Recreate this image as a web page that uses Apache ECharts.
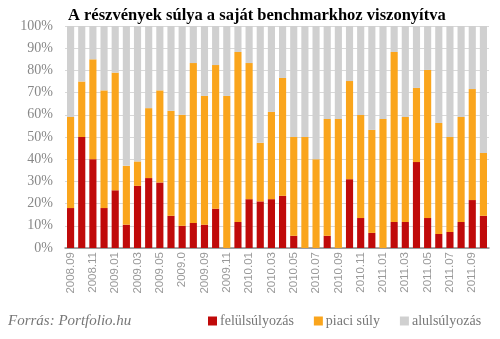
<!DOCTYPE html>
<html>
<head>
<meta charset="utf-8">
<script src="https://cdn.jsdelivr.net/npm/echarts@6/dist/echarts.min.js"></script>
<style>html,body{margin:0;padding:0;background:#fff}#c{width:500px;height:339px}</style>
</head>
<body>
<div id="c"></div>
<script>
var categories = ["2008.09","2008.10","2008.11","2008.12","2009.01","2009.02","2009.03","2009.04","2009.05","2009.06","2009.0","2009.08","2009.09","2009.10","2009.11","2009.12","2010.01","2010.02","2010.03","2010.04","2010.05","2010.06","2010.07","2010.08","2010.09","2010.10","2010.11","2010.12","2011.01","2011.02","2011.03","2011.04","2011.05","2011.06","2011.07","2011.08","2011.09","2011.10"];
var felulsulyozas = [18,50,40,18,26,10.5,28,31.5,29.5,14.5,10,11.3,10.5,17.7,0,11.7,22,21,22,23.5,5.5,0,0,5.5,0,31,13.5,6.8,0,11.7,11.7,38.7,13.5,6.3,7.2,11.7,21.6,14.5];
var piaciSuly = [41,25,45,53,53,26.5,11,31.5,41.5,47.3,50,72,58,64.7,68.5,76.6,61.3,26.4,39.3,53.1,44.5,50,40,52.6,58.1,44.2,46.4,46.4,58.1,76.6,47.3,33.4,66.7,50,42.8,47.3,50,28.3];
var alulsulyozas = [41,25,15,29,21,63,61,37,29,38.2,40,16.7,31.5,17.6,31.5,11.7,16.7,52.6,38.7,23.4,50,50,60,41.9,41.9,24.8,40.1,46.8,41.9,11.7,41,27.9,19.8,43.7,50,41,28.4,57.2];
var yTicks = [0,10,20,30,40,50,60,70,80,90,100];

var chart = echarts.init(document.getElementById('c'), null, {renderer:'canvas'});
var serif = '"Liberation Serif", "DejaVu Serif", serif';
chart.setOption({
  animation:false,
  title:{text:'A részvények súlya a saját benchmarkhoz viszonyítva', left:63, top:2,
    textStyle:{fontFamily:serif, fontWeight:'bold', fontSize:16.5, color:'#000'}},
  graphic:[{type:'text', left:8, top:314, style:{text:'Forrás: Portfolio.hu', font:'italic 15px "Liberation Serif", serif', fill:'#777'}}],
  legend:{bottom:6, left:203, itemWidth:9, itemHeight:9, itemGap:20, icon:'rect',
    textStyle:{fontFamily:serif, fontSize:14, color:'#777', padding:[0,0,0,-2]},
    data:['felülsúlyozás','piaci súly','alulsúlyozás']},
  grid:{left:65, right:11, top:26, bottom:91},
  xAxis:{type:'category', data:categories, boundaryGap:true,
    axisLine:{lineStyle:{color:'#888', width:1.5}}, axisTick:{show:false},
    axisLabel:{interval:1, rotate:90, fontFamily:'"Liberation Sans", Arial, sans-serif', fontSize:11.5, color:'#999', margin:4}},
  yAxis:{type:'value', min:0, max:100, interval:10,
    axisLine:{show:false}, axisTick:{show:false},
    splitLine:{lineStyle:{color:'#d9d9d9', width:1}},
    axisLabel:{formatter:function(v){return yTicks.indexOf(v)>=0 ? v+'%' : '';}, fontFamily:serif, fontSize:14, color:'#888', margin:12}},
  series:[
    {name:'felülsúlyozás', type:'bar', stack:'a', data:felulsulyozas, barCategoryGap:'36%', itemStyle:{color:'#c00a0a'}},
    {name:'piaci súly', type:'bar', stack:'a', data:piaciSuly, itemStyle:{color:'#faa51c'}},
    {name:'alulsúlyozás', type:'bar', stack:'a', data:alulsulyozas, itemStyle:{color:'#d0d0d0'}}
  ]
});
</script>
</body>
</html>
